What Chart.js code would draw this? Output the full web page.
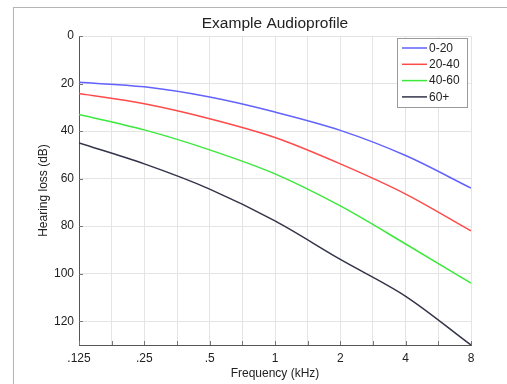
<!DOCTYPE html>
<html>
<head>
<meta charset="utf-8">
<script src="https://cdn.jsdelivr.net/npm/chart.js@4/dist/chart.umd.min.js"></script>
<style>
  html, body { margin: 0; padding: 0; background: #fff; }
  #wrap { position: relative; width: 507px; height: 384px; }
  #frame { position: absolute; left: 13px; top: 7px; right: 0; bottom: 0; border-left: 1px solid #b5b5b5; border-top: 1px solid #b5b5b5; }
  canvas { position: absolute; left: 0; top: 0; }
</style>
</head>
<body>
<div id="wrap"><div id="frame"></div><canvas id="c" width="507" height="384"></canvas></div>
<script>
const title = 'Example Audioprofile';
const xTitle = 'Frequency (kHz)';
const yTitle = 'Hearing loss (dB)';
const freqs = [0.125, 0.25, 0.5, 1, 2, 4, 8];
const freqLabels = ['.125', '.25', '.5', '1', '2', '4', '8'];
const gridFreqs = [0.125, 0.1768, 0.25, 0.3536, 0.5, 0.7071, 1, 1.4142, 2, 2.8284, 4, 5.6569, 8];
const yTicks = [0, 20, 40, 60, 80, 100, 120];
const seriesNames = ['0-20', '20-40', '40-60', '60+'];
const loss0to20 = [19.5, 21.4, 25.7, 32.0, 39.7, 50.3, 64.0];
const loss20to40 = [24.2, 28.5, 34.8, 42.7, 53.8, 66.5, 82.0];
const loss40to60 = [33.0, 39.5, 47.9, 58.0, 71.5, 87.5, 104.0];
const loss60plus = [45.0, 53.8, 64.4, 77.8, 94.0, 109.5, 130.0];
const colors = ['#6262ff', '#ff4a4a', '#3ce83c', '#33334a'];

const allSeries = [loss0to20, loss20to40, loss40to60, loss60plus];
const FONT = '"Liberation Sans", Arial, sans-serif';

const titlePlugin = {
  id: 'centerTitle',
  afterDraw(chart) {
    const ctx = chart.ctx, ca = chart.chartArea;
    ctx.save();
    ctx.font = '15.5px ' + FONT;
    ctx.fillStyle = '#222';
    ctx.textAlign = 'center';
    ctx.textBaseline = 'alphabetic';
    ctx.fillText(title, (ca.left + ca.right) / 2, 27.5);
    ctx.restore();
  }
};

const legendPlugin = {
  id: 'boxLegend',
  afterDraw(chart) {
    const ctx = chart.ctx;
    const ca = chart.chartArea;
    const w = 70, h = 69;
    const x0 = ca.right - 74, y0 = ca.top + 2;
    ctx.save();
    ctx.fillStyle = '#fff';
    ctx.fillRect(x0, y0, w, h);
    ctx.strokeStyle = '#9a9a9a';
    ctx.lineWidth = 1;
    ctx.strokeRect(x0 + 0.5, y0 + 0.5, w, h);
    ctx.font = '12px ' + FONT;
    ctx.textBaseline = 'middle';
    chart.data.datasets.forEach((ds, i) => {
      const yy = y0 + 10 + i * 16.3;
      ctx.strokeStyle = ds.borderColor;
      ctx.lineWidth = 1.5;
      ctx.beginPath();
      ctx.moveTo(x0 + 5, yy);
      ctx.lineTo(x0 + 30, yy);
      ctx.stroke();
      ctx.fillStyle = '#222';
      ctx.fillText(ds.label, x0 + 32, yy + 0.5);
    });
    ctx.restore();
  }
};

const innerTicks = {
  id: 'innerTicks',
  afterDatasetsDraw(chart) {
    const ctx = chart.ctx, ca = chart.chartArea;
    const xs = chart.scales.x, ys = chart.scales.y;
    ctx.save();
    ctx.strokeStyle = '#777';
    ctx.lineWidth = 1;
    ctx.beginPath();
    gridFreqs.forEach(f => {
      const px = Math.round(xs.getPixelForValue(f)) + 0.5;
      ctx.moveTo(px, ca.bottom);
      ctx.lineTo(px, ca.bottom - 4);
    });
    yTicks.forEach(v => {
      const py = Math.round(ys.getPixelForValue(v)) + 0.5;
      ctx.moveTo(ca.left, py);
      ctx.lineTo(ca.left + 4, py);
    });
    ctx.stroke();
    ctx.restore();
  }
};

new Chart(document.getElementById('c'), {
  type: 'line',
  data: {
    datasets: allSeries.map((vals, i) => ({
      label: seriesNames[i],
      data: freqs.map((f, j) => ({ x: f, y: vals[j] })),
      borderColor: colors[i],
      backgroundColor: colors[i],
      borderWidth: 1.5,
      pointRadius: 0,
      fill: false,
      cubicInterpolationMode: 'monotone'
    }))
  },
  options: {
    responsive: false,
    animation: false,
    devicePixelRatio: 1,
    layout: { padding: { left: 0, right: 36, top: 36, bottom: 0 } },
    plugins: {
      legend: { display: false },
      tooltip: { enabled: false },
      title: { display: false }
    },
    scales: {
      x: {
        type: 'logarithmic',
        min: 0.125, max: 8,
        afterBuildTicks: s => { s.ticks = gridFreqs.map(v => ({ value: v })); },
        afterFit: s => { s.height = 39; },
        ticks: {
          autoSkip: false, maxRotation: 0, color: '#222', padding: 6,
          font: { family: FONT, size: 12 },
          callback: (v) => {
            const k = freqs.findIndex(f => Math.abs(f - v) < 1e-6);
            return k >= 0 ? freqLabels[k] : '';
          }
        },
        grid: { color: '#e4e4e4', tickLength: 0 },
        border: { color: '#555' },
        title: { display: true, text: xTitle, color: '#222', font: { family: FONT, size: 12 }, padding: { top: 2, bottom: 3 } }
      },
      y: {
        reverse: true,
        min: 0, max: 130,
        afterBuildTicks: s => { s.ticks = yTicks.map(v => ({ value: v })); },
        afterFit: s => { s.width = 79; },
        ticks: { color: '#222', padding: 5, font: { family: FONT, size: 12 } },
        grid: { color: '#e4e4e4', tickLength: 0 },
        border: { color: '#555' },
        title: { display: true, text: yTitle, color: '#222', font: { family: FONT, size: 12 }, padding: { top: 36, bottom: 0 } }
      }
    }
  },
  plugins: [titlePlugin, legendPlugin, innerTicks]
});
</script>
</body>
</html>
